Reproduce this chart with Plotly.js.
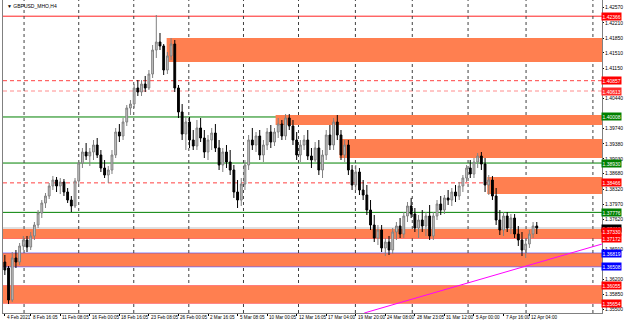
<!DOCTYPE html>
<html><head><meta charset="utf-8">
<script src="https://cdn.plot.ly/plotly-3.0.1.min.js"></script>
<style>html,body{margin:0;padding:0;background:#fff}#c{width:625px;height:322px}</style>
</head><body><div id="c"></div>
<script>
const symbolTitle = "▼ GBPUSD_MHO,H4";
const open = [1.36614,1.36474,1.35725,1.36708,1.36614,1.36989,1.37129,1.36965,1.37223,1.37480,1.37761,1.37995,1.38159,1.38393,1.38533,1.38393,1.38486,1.38252,1.38065,1.37925,
1.38510,1.38931,1.39188,1.39095,1.39188,1.39352,1.39118,1.38814,1.38650,1.38767,1.39118,1.39656,1.39563,1.39890,1.40218,1.40311,1.40686,1.40592,1.40779,1.40686,
1.41013,1.41575,1.41762,1.41669,1.41107,1.41435,1.41715,1.40686,1.40124,1.39609,1.39890,1.39469,1.39329,1.39750,1.39516,1.39188,1.39469,1.39633,1.39282,1.38884,
1.39188,1.38954,1.38767,1.38252,1.38065,1.38439,1.38884,1.39469,1.39352,1.39563,1.39118,1.39352,1.39656,1.39422,1.39656,1.39843,1.39563,1.39984,1.39797,1.39469,
1.39118,1.39352,1.39469,1.39095,1.39001,1.39282,1.38767,1.39118,1.39586,1.39352,1.39890,1.39586,1.39118,1.39352,1.38767,1.38416,1.38720,1.38299,1.38182,1.37831,
1.37480,1.37176,1.37363,1.36942,1.37082,1.36895,1.37316,1.37457,1.37269,1.37691,1.37925,1.37737,1.37410,1.37597,1.37457,1.37691,1.37223,1.37691,1.37971,1.37831,
1.38113,1.38065,1.38252,1.38159,1.38393,1.38580,1.38814,1.38673,1.38954,1.39095,1.38907,1.38416,1.38533,1.38159,1.37597,1.37363,1.37691,1.37410,1.37644,1.37269,
1.37129,1.36895,1.37036,1.37269,1.37457];
const high = [1.36778,1.36521,1.36848,1.36895,1.37059,1.37223,1.37223,1.37316,1.37550,1.37831,1.38065,1.38229,1.38463,1.38627,1.38603,1.38580,1.38556,1.38346,1.38159,1.38580,
1.39001,1.39282,1.39399,1.39282,1.39469,1.39516,1.39235,1.39001,1.38861,1.39235,1.39750,1.39843,1.39984,1.40288,1.40405,1.40779,1.40873,1.40873,1.40967,1.41107,
1.41692,1.42394,1.41973,1.41715,1.41528,1.41856,1.41809,1.40756,1.40311,1.40031,1.40007,1.39703,1.39937,1.39984,1.39703,1.39586,1.39750,1.39843,1.39469,1.39282,
1.39352,1.39235,1.38884,1.38533,1.38580,1.39001,1.39586,1.39750,1.39656,1.39703,1.39469,1.39750,1.39820,1.39750,1.39984,1.39937,1.40077,1.40077,1.39937,1.39656,
1.39469,1.39586,1.39703,1.39282,1.39422,1.39469,1.39235,1.39703,1.39820,1.39984,1.40054,1.39703,1.39469,1.39469,1.38884,1.38884,1.38814,1.38533,1.38416,1.38065,
1.37714,1.37480,1.37480,1.37176,1.37223,1.37410,1.37550,1.37644,1.37784,1.38018,1.38113,1.37878,1.37714,1.37831,1.37784,1.37948,1.37784,1.38065,1.38159,1.38182,
1.38299,1.38346,1.38416,1.38486,1.38650,1.38884,1.39001,1.39048,1.39165,1.39188,1.39048,1.38650,1.38627,1.38346,1.37831,1.37784,1.37784,1.37737,1.37737,1.37457,
1.37316,1.37176,1.37363,1.37550,1.37550];
const low = [1.36310,1.35631,1.35678,1.36474,1.36544,1.36895,1.36848,1.36895,1.37129,1.37410,1.37644,1.37878,1.38088,1.38299,1.38252,1.38205,1.38159,1.37995,1.37784,1.37878,
1.38439,1.38814,1.39001,1.38861,1.39001,1.39048,1.38720,1.38580,1.38463,1.38673,1.39048,1.39422,1.39469,1.39797,1.40054,1.40218,1.40499,1.40499,1.40592,1.40639,
1.40920,1.41388,1.41575,1.40990,1.41013,1.41341,1.40592,1.39984,1.39469,1.39235,1.39282,1.39235,1.39235,1.39422,1.39048,1.39001,1.39235,1.39188,1.38767,1.38720,
1.38814,1.38650,1.38113,1.37878,1.37925,1.38299,1.38767,1.39235,1.39188,1.39001,1.38954,1.39235,1.39282,1.39329,1.39516,1.39469,1.39469,1.39703,1.39352,1.39001,
1.38954,1.39235,1.39001,1.38814,1.38954,1.38650,1.38580,1.39001,1.39235,1.39235,1.39469,1.39001,1.38954,1.38650,1.38299,1.38299,1.38182,1.38065,1.37714,1.37363,
1.37082,1.37012,1.36848,1.36755,1.36778,1.36801,1.37129,1.37176,1.37176,1.37550,1.37644,1.37316,1.37176,1.37316,1.37223,1.37129,1.37129,1.37597,1.37714,1.37737,
1.37948,1.37925,1.38018,1.38065,1.38252,1.38486,1.38580,1.38580,1.38814,1.38767,1.38252,1.38182,1.38065,1.37480,1.37246,1.37223,1.37316,1.37269,1.37176,1.36989,
1.36755,1.36708,1.36942,1.37176,1.37269];
const close = [1.36427,1.35725,1.36708,1.36614,1.36989,1.37129,1.36965,1.37223,1.37480,1.37761,1.37995,1.38159,1.38393,1.38533,1.38393,1.38486,1.38252,1.38065,1.37925,1.38510,
1.38931,1.39188,1.39095,1.39188,1.39352,1.39118,1.38814,1.38650,1.38767,1.39118,1.39656,1.39563,1.39890,1.40218,1.40311,1.40686,1.40592,1.40779,1.40686,1.41013,
1.41575,1.41762,1.41669,1.41107,1.41435,1.41715,1.40686,1.40124,1.39609,1.39890,1.39469,1.39329,1.39750,1.39516,1.39188,1.39469,1.39633,1.39282,1.38884,1.39188,
1.38954,1.38767,1.38252,1.38065,1.38439,1.38884,1.39469,1.39352,1.39563,1.39118,1.39352,1.39656,1.39422,1.39656,1.39843,1.39563,1.39984,1.39797,1.39469,1.39118,
1.39352,1.39469,1.39095,1.39001,1.39282,1.38767,1.39118,1.39586,1.39352,1.39890,1.39586,1.39118,1.39352,1.38767,1.38416,1.38720,1.38299,1.38182,1.37831,1.37480,
1.37176,1.37363,1.36942,1.37082,1.36895,1.37316,1.37457,1.37269,1.37691,1.37925,1.37737,1.37410,1.37597,1.37457,1.37691,1.37223,1.37691,1.37971,1.37831,1.38113,
1.38065,1.38252,1.38159,1.38393,1.38580,1.38814,1.38673,1.38954,1.39095,1.38907,1.38416,1.38533,1.38159,1.37597,1.37363,1.37691,1.37410,1.37644,1.37269,1.37129,
1.36895,1.37036,1.37269,1.37457,1.37410];

const dateLabels = ["4 Feb 2021","8 Feb 16:05","11 Feb 08:05","16 Feb 00:05","18 Feb 16:05","23 Feb 08:05","26 Feb 00:05","2 Mar 16:05","5 Mar 08:05","10 Mar 00:05","12 Mar 16:05","17 Mar 04:00","19 Mar 20:00","24 Mar 08:00","28 Mar 23:05","31 Mar 12:00","5 Apr 00:00","7 Apr 16:00","12 Apr 04:00"];
const dateLabelBars = [0,7,15,23,31,39,47,55,63,71,79,87,95,103,111,119,127,135,142];
const priceTicks = [1.42570,1.42210,1.41850,1.41510,1.41150,1.40440,1.39740,1.39380,1.39030,1.38680,1.38320,1.37970,1.37620,1.36910,1.36200,1.35850,1.35500];

const redSolidLevels = [1.42366, 1.37172, 1.36055, 1.35654];
const redDashedLevels = [1.40857, 1.38466];
const pinkDashedLevels = [1.40613];
const greenLevels = [1.40008, 1.38930, 1.37776];
const blueLevels = [1.36819];
const violetLevels = [1.36508];
const redLabelExtra = [1.37330];

// zones: start bar, top price, bottom price
const zoneStartBar = [43.8, 73.3, 90.6, 130.6, -0.5, -0.5, -0.5];
const zoneTop      = [1.41856, 1.40054, 1.39492, 1.38603, 1.37387, 1.36819, 1.36055];
const zoneBottom   = [1.41294, 1.39820, 1.39048, 1.38205, 1.37172, 1.36508, 1.35654];

// trend line: [bar, price] endpoints
const trendBars = [97.3, 161.7];
const trendPrices = [1.35421, 1.37036];

const bars = close.map((_, i) => i);
const bid = close[close.length - 1];

const XR = [-0.5, 161.66];
const shapes = [];
const hline = (p, color, dash, width) => shapes.push({type:'line', xref:'paper', x0:0, x1:1, yref:'y', y0:p, y1:p, layer:'below', line:{color:color, width:width||1, dash:dash||'solid'}});

for (let k = 0; k < zoneTop.length; k++) {
  shapes.push({type:'rect', xref:'x', x0:zoneStartBar[k], x1:XR[1], yref:'y', y0:zoneBottom[k], y1:zoneTop[k], layer:'below', fillcolor:'#ff7f50', line:{width:0}});
}
hline(bid, '#c0c0c0');
redSolidLevels.forEach(p => hline(p, '#ff2020'));
redDashedLevels.forEach(p => hline(p, '#ff4040', '4px,3px'));
pinkDashedLevels.forEach(p => hline(p, '#ffb4b4', '4px,3px', 1.5));
greenLevels.forEach(p => hline(p, '#008000'));
blueLevels.forEach(p => hline(p, '#0000ff'));
violetLevels.forEach(p => hline(p, '#6666ff', 'solid', 1.5));
[5.2, 20.0, 34.9, 49.8, 64.6, 79.5, 94.9, 110.3, 125.4, 141.1, 159.2].forEach(x => shapes.push({type:'line', xref:'x', x0:x, x1:x, yref:'paper', y0:0, y1:1, layer:'below', line:{color:'#404040', width:1, dash:'dot'}}));
shapes.push({type:'line', xref:'x', yref:'y', x0:trendBars[0], y0:trendPrices[0], x1:trendBars[1], y1:trendPrices[1], layer:'above', line:{color:'#ff00ff', width:1}});

const FONT = 'Liberation Sans, Arial, sans-serif';
const annotations = [];
const tag = (p, bg) => annotations.push({xref:'paper', x:1, xanchor:'left', xshift:-1, yref:'y', y:p, yanchor:'middle', text:p.toFixed(5), showarrow:false, bgcolor:bg, borderpad:0.5, font:{family:FONT, size:5, color:'#fff'}});
tag(bid, '#000000');
redLabelExtra.forEach(p => tag(p, '#ff0000'));
redSolidLevels.forEach(p => tag(p, '#ff0000'));
redDashedLevels.forEach(p => tag(p, '#ff0000'));
pinkDashedLevels.forEach(p => tag(p, '#ff2a2a'));
greenLevels.forEach(p => tag(p, '#008000'));
blueLevels.forEach(p => tag(p, '#0000ff'));
violetLevels.forEach(p => tag(p, '#0000ff'));
dateLabels.forEach((t, k) => annotations.push({xref:'x', x:dateLabelBars[k], xanchor:'left', yref:'paper', y:0, yanchor:'top', yshift:0, text:t, showarrow:false, font:{family:FONT, size:4.6, color:'#000'}}));
annotations.push({xref:'paper', x:0, xanchor:'left', xshift:2, yref:'paper', y:1, yanchor:'top', yshift:-1, text:symbolTitle, showarrow:false, font:{family:FONT, size:5, color:'#000'}});

const trace = {type:'candlestick', x:bars, open:open, high:high, low:low, close:close,
  increasing:{line:{color:'#808080', width:1}, fillcolor:'#c8c8c8'},
  decreasing:{line:{color:'#000000', width:1}, fillcolor:'#000000'},
  whiskerwidth:0, hoverinfo:'skip'};

const layout = {
  width:625, height:322, margin:{l:3, r:23, t:0, b:9, pad:0},
  paper_bgcolor:'#ffffff', plot_bgcolor:'#ffffff', showlegend:false,
  xaxis:{range:XR, showgrid:false, zeroline:false, showticklabels:false, tickvals:dateLabelBars, ticks:'outside', ticklen:2, tickcolor:'#000',
         showline:true, linecolor:'#808080', mirror:true, rangeslider:{visible:false}, fixedrange:true},
  yaxis:{range:[1.35421, 1.42745], side:'right', tickvals:priceTicks, ticktext:priceTicks.map(v => v.toFixed(5)),
         tickfont:{family:FONT, size:5, color:'#000'}, ticks:'outside', ticklen:1, tickcolor:'#000',
         showgrid:false, zeroline:false, showline:true, linecolor:'#808080', mirror:true, fixedrange:true},
  shapes:shapes, annotations:annotations
};
Plotly.newPlot('c', [trace], layout, {staticPlot:true, displayModeBar:false});
</script></body></html>
